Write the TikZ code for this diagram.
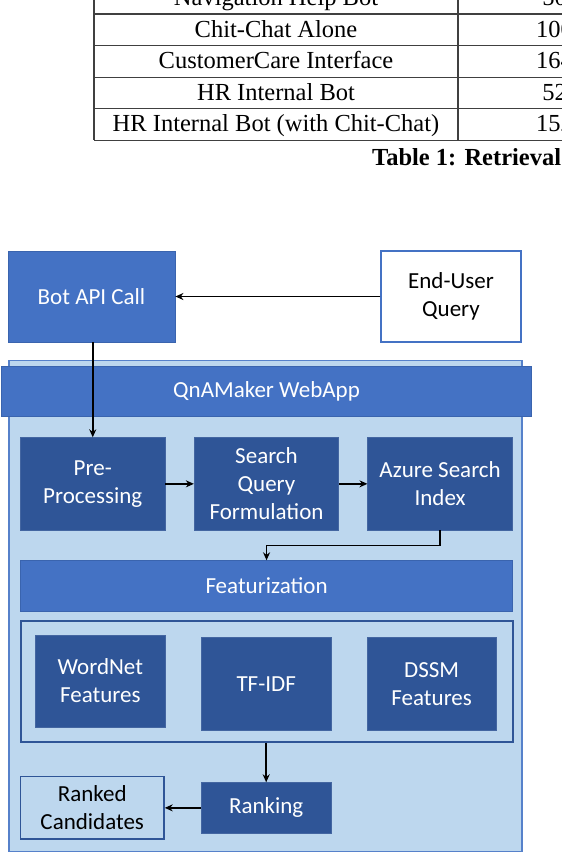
\documentclass[tikz,border=0pt]{standalone}
\usepackage{fontspec}
\setmainfont{Liberation Serif}
\newfontfamily\calibri{Carlito}
\usetikzlibrary{calc,arrows.meta}
\definecolor{midblue}{HTML}{4472C4}
\definecolor{darkblue}{HTML}{2F5597}
\definecolor{edgeblue}{HTML}{3A64AE}
\definecolor{paleblue}{HTML}{BDD7EE}
\definecolor{tabgray}{HTML}{404040}

\begin{document}
\begin{tikzpicture}[x=1pt,y=-1pt,>={Stealth[length=8pt,width=7pt]},
    blk/.style={inner sep=0pt,align=center,font=\calibri\fontsize{23}{28}\selectfont},
    midbox/.style={blk,fill=midblue,draw=edgeblue,line width=0.8pt,text=white},
    darkbox/.style={blk,fill=darkblue,draw=darkblue!90!white,line width=0.8pt,text=white},
    flow/.style={->,line width=1.8pt,black}]
  \useasboundingbox (0,0) rectangle (562,852);
  \clip (0,0) rectangle (562,852);

  % table from the page above
  \draw[tabgray,line width=1.2pt] (94,-5) -- (94,140.3) (458,-5) -- (458,140.3);
  \foreach \y in {14,45.7,77.3,108.7,140.3}
    \draw[tabgray,line width=1.2pt] (94,\y) -- (570,\y);
  \foreach \row/\num/\y in {Navigation Help Bot/50/5.5,Chit-Chat Alone/100/37,CustomerCare Interface/164/68.7,HR Internal Bot/52/100.3,HR Internal Bot (with Chit-Chat)/152/131.7} {
    \node[anchor=base,inner sep=0pt,font=\fontsize{24.5}{28}\selectfont] at (276,\y) {\row};
    \node[anchor=base,inner sep=0pt,font=\fontsize{24.5}{28}\selectfont] at (554.5,\y) {\num};
  }
  \node[anchor=base west,inner sep=0pt,font=\bfseries\fontsize{24.5}{28}\selectfont] (caption) at (372,165.5) {Table 1: Retrieval};

  % diagram
  \node[midbox,minimum width=167pt,minimum height=91pt] (bot) at (91.5,296.5) {Bot API Call};
  \node[blk,fill=white,draw=midblue,line width=1.2pt,minimum width=140pt,minimum height=91pt] (user) at (451,296.5) {End-User\\Query};

  \node[fill=paleblue,draw=midblue!85!paleblue,line width=1.2pt,minimum width=513pt,minimum height=491pt,inner sep=0pt] (webapp) at (265.5,606) {};
  \node[midbox,minimum width=530pt,minimum height=50.5pt] (header) at (266.5,391.3) {QnAMaker WebApp};

  \node[darkbox,minimum width=144.5pt,minimum height=92.3pt] (pre) at (92.75,483.85) {Pre-\\Processing};
  \node[darkbox,minimum width=144.5pt,minimum height=92.3pt] (sqf) at (266.5,483.85) {Search\\Query\\Formulation};
  \node[darkbox,minimum width=144.5pt,minimum height=92.3pt] (azure) at (440.1,483.85) {Azure Search\\Index};

  \node[midbox,minimum width=492pt,minimum height=50.3pt] (feat) at (266.55,585.85) {Featurization};
  \node[draw=darkblue,line width=2pt,minimum width=492pt,minimum height=121pt,inner sep=0pt] (fbox) at (266.55,681.2) {};
  \node[darkbox,minimum width=129.4pt,minimum height=92pt] (wordnet) at (100.3,681) {WordNet\\Features};
  \node[darkbox,minimum width=129.6pt,minimum height=92.3pt] (tfidf) at (266.2,683.85) {TF-IDF};
  \node[darkbox,minimum width=129.4pt,minimum height=92.3pt] (dssm) at (431.7,683.85) {DSSM\\Features};

  \node[darkbox,minimum width=129.6pt,minimum height=50.3pt] (rank) at (266.2,807.85) {Ranking};
  \node[blk,draw=darkblue,line width=1.5pt,minimum width=143.5pt,minimum height=62.3pt] (ranked) at (92.25,807.85) {Ranked\\Candidates};

  \draw[flow] (user.west) -- (bot.east);
  \draw[flow] (bot.south -| pre.north) -- (pre.north);
  \draw[flow] (pre.east) -- (sqf.west);
  \draw[flow] (sqf.east) -- (azure.west);
  \draw[flow] (azure.south) -- ++(0,15) -| (feat.north);
  \draw[flow] (fbox.south -| rank.north) -- (rank.north);
  \draw[flow] (rank.west) -- (ranked.east);

\end{tikzpicture}
\end{document}
